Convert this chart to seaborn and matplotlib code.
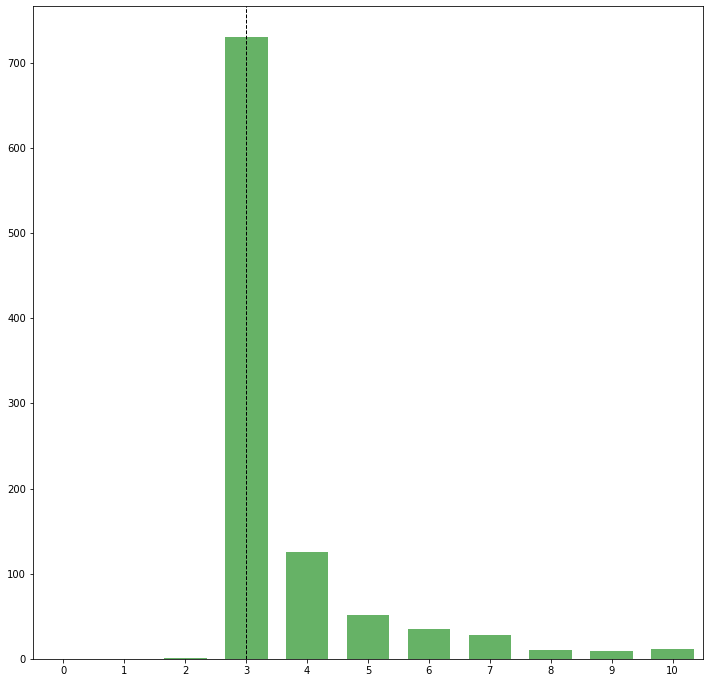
import numpy as np
import pandas as pd
import seaborn as sns
import matplotlib
matplotlib.use('Agg')
import matplotlib.pyplot as plt

# counts per value
values = [0, 1, 2, 3, 4, 5, 6, 7, 8, 9, 10]
counts = [0, 0, 1, 730, 126, 52, 35, 28, 10, 9, 12]
mark_at = 3

df = pd.DataFrame({'value': [str(v) for v in values], 'count': counts})

plt.rcParams['font.family'] = ['DejaVu Sans']
plt.rcParams['font.size'] = 10

fig, ax = plt.subplots(figsize=(709 / 72, 683 / 72), dpi=72)
sns.barplot(data=df, x='value', y='count', color='green', alpha=0.6,
            width=0.7, saturation=1, ax=ax)
ax.axvline(mark_at, color='black', linestyle='--', linewidth=1)
ax.set_xlabel('')
ax.set_ylabel('')
ax.set_xlim(-0.5, len(values) - 0.5)
ax.set_ylim(0, max(counts) * 1.05)
plt.subplots_adjust(left=33 / 709, right=703 / 709, top=1 - 6 / 683, bottom=1 - 659 / 683)
plt.savefig('out.png', dpi=72)
